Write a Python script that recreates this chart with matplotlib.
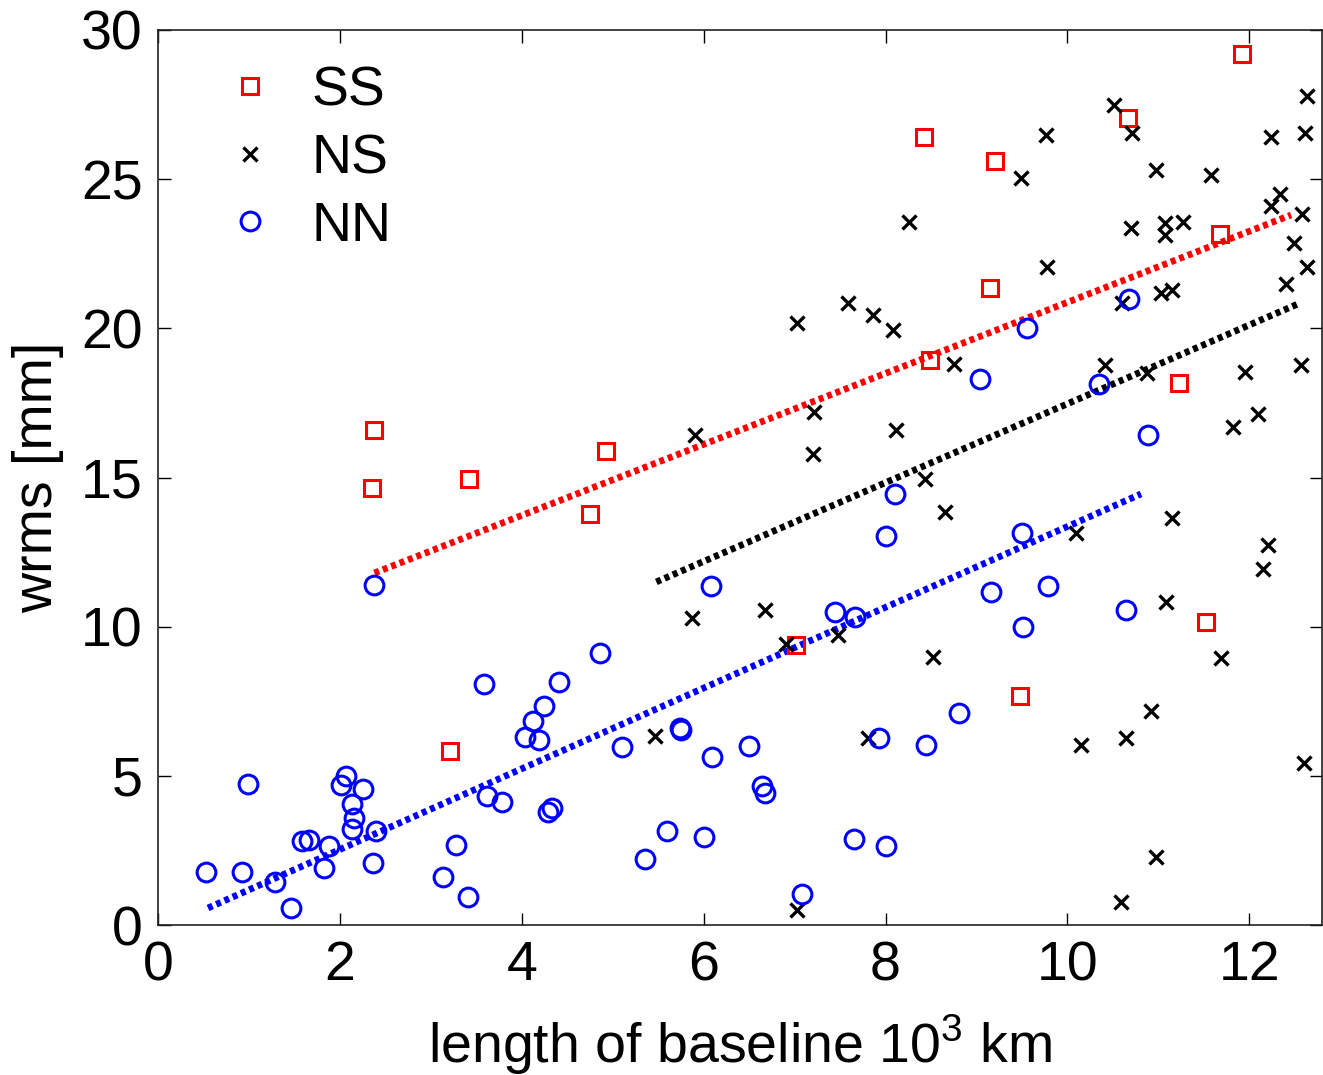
import numpy as np
import matplotlib
matplotlib.use("Agg")
from matplotlib import pyplot as plt

plt.rcParams["font.family"] = ["Liberation Sans", "DejaVu Sans"]
plt.rcParams["mathtext.fontset"] = "custom"
plt.rcParams["mathtext.rm"] = "Liberation Sans"

# SS baselines
ss_x = [2.38, 2.35, 3.42, 4.93, 4.75, 3.21, 7.02, 8.42, 9.20, 9.15, 8.49,
        10.67, 11.92, 11.68, 11.23, 11.52, 9.48]
ss_y = [16.6, 14.65, 14.95, 15.9, 13.78, 5.83, 9.39, 26.4, 25.6, 21.35, 18.94,
        27.05, 29.2, 23.16, 18.17, 10.16, 7.68]

# NS baselines
ns_x = [8.26, 10.51, 10.71, 9.77, 9.49, 10.98, 11.58, 12.63, 12.61, 12.24,
        12.34, 12.24, 12.58, 12.49, 10.70, 11.07, 11.07, 11.27, 12.64, 9.78,
        12.40, 11.03, 11.15, 10.60, 8.75, 10.41, 10.88, 11.95, 12.57, 12.10,
        11.82, 11.15, 10.10, 12.21, 12.15, 11.09, 11.69, 10.92, 10.65, 10.15,
        12.60, 10.98, 10.59, 7.03, 7.59, 7.86, 8.08, 5.90, 7.21, 7.20,
        8.11, 8.43, 8.65, 5.87, 6.67, 6.91, 7.48, 8.52, 5.46, 7.81, 7.03]
ns_y = [23.57, 27.5, 26.55, 26.48, 25.04, 25.3, 25.14, 27.8, 26.55, 26.42,
        24.5, 24.1, 23.83, 22.86, 23.37, 23.53, 23.13, 23.57, 22.06, 22.04,
        21.5, 21.2, 21.28, 20.84, 18.8, 18.77, 18.5, 18.54, 18.77, 17.13,
        16.69, 13.64, 13.14, 12.74, 11.93, 10.83, 8.95, 7.17, 6.27, 6.03,
        5.43, 2.28, 0.77, 20.18, 20.85, 20.45, 19.95, 16.43, 17.2, 15.8,
        16.6, 14.95, 13.84, 10.29, 10.56, 9.42, 9.72, 8.98, 6.34, 6.27, 0.5]

# NN baselines
nn_x = [2.37, 3.58, 4.41, 4.86, 4.24, 4.12, 4.04, 4.19, 5.10, 0.99,
        2.07, 2.01, 2.25, 2.13, 2.15, 2.13, 2.40, 3.62, 3.78, 4.29,
        4.33, 1.58, 1.66, 1.88, 1.82, 2.36, 3.28, 0.53, 0.92, 1.29,
        1.46, 3.13, 3.41, 5.35, 6.08, 7.44, 7.67, 9.16, 5.74, 5.75,
        6.09, 6.50, 6.64, 6.68, 5.60, 6.00, 7.65, 8.00, 7.93, 8.44,
        8.81, 7.08, 9.79, 9.51, 10.64, 8.10, 8.00, 9.04, 10.68, 9.56,
        10.35, 10.89, 9.50]
nn_y = [11.4, 8.08, 8.15, 9.12, 7.34, 6.84, 6.3, 6.2, 5.97, 4.73,
        5.0, 4.69, 4.56, 4.06, 3.59, 3.22, 3.15, 4.32, 4.12, 3.79,
        3.92, 2.82, 2.85, 2.65, 1.91, 2.08, 2.68, 1.78, 1.78, 1.44,
        0.57, 1.61, 0.94, 2.21, 11.36, 10.49, 10.33, 11.17, 6.6, 6.54,
        5.63, 6.0, 4.66, 4.43, 3.15, 2.95, 2.88, 2.65, 6.27, 6.03,
        7.11, 1.04, 11.36, 9.99, 10.56, 14.45, 13.04, 18.3, 21.0, 20.0,
        18.14, 16.43, 13.14]

# trend line end points
ss_fit_x = [2.38, 12.46]; ss_fit_y = [11.8, 23.8]
ns_fit_x = [5.48, 12.56]; ns_fit_y = [11.5, 20.85]
nn_fit_x = [0.55, 10.81]; nn_fit_y = [0.57, 14.45]

fig = plt.figure(figsize = (13.23, 10.75), dpi = 100)
ax = fig.add_axes([158 / 1323, 150 / 1075, 1164 / 1323, 895 / 1075])

dots = (0, (0.75, 0.6))
ax.plot(ss_fit_x, ss_fit_y, color = "red", lw = 4.8, linestyle = dots)
ax.plot(ns_fit_x, ns_fit_y, color = "black", lw = 4.8, linestyle = dots)
ax.plot(nn_fit_x, nn_fit_y, color = "blue", lw = 4.8, linestyle = dots)

ax.plot(ss_x, ss_y, "s", color = "red", mfc = "none", ms = 11, mew = 2.2, label = "SS")
ax.plot(ns_x, ns_y, "x", color = "black", ms = 10, mew = 2.4, label = "NS")
ax.plot(nn_x, nn_y, "o", color = "blue", mfc = "none", ms = 13.5, mew = 2.2, label = "NN")

ax.set_xlim(0, 12.8)
ax.set_ylim(0, 30)
ax.set_xticks(range(0, 13, 2))
ax.set_yticks(range(0, 31, 5))
ax.tick_params(direction = "in", length = 9, width = 1, labelsize = 40,
               top = True, right = True, pad = 11)
for s in ax.spines.values():
    s.set_linewidth(1.2)
    s.set_color("#222222")

ax.set_xlabel("length of baseline 10$^3$ km", fontsize = 40, labelpad = 15)
ax.set_ylabel("wrms [mm]", fontsize = 40, labelpad = 12)

ax.legend(loc = "upper left", bbox_to_anchor = (0.012, 1.016), frameon = False,
          fontsize = 40, handlelength = 1.0, handletextpad = 0.62,
          labelspacing = 0.28, numpoints = 1)

fig.savefig("out.png", dpi = 100)
